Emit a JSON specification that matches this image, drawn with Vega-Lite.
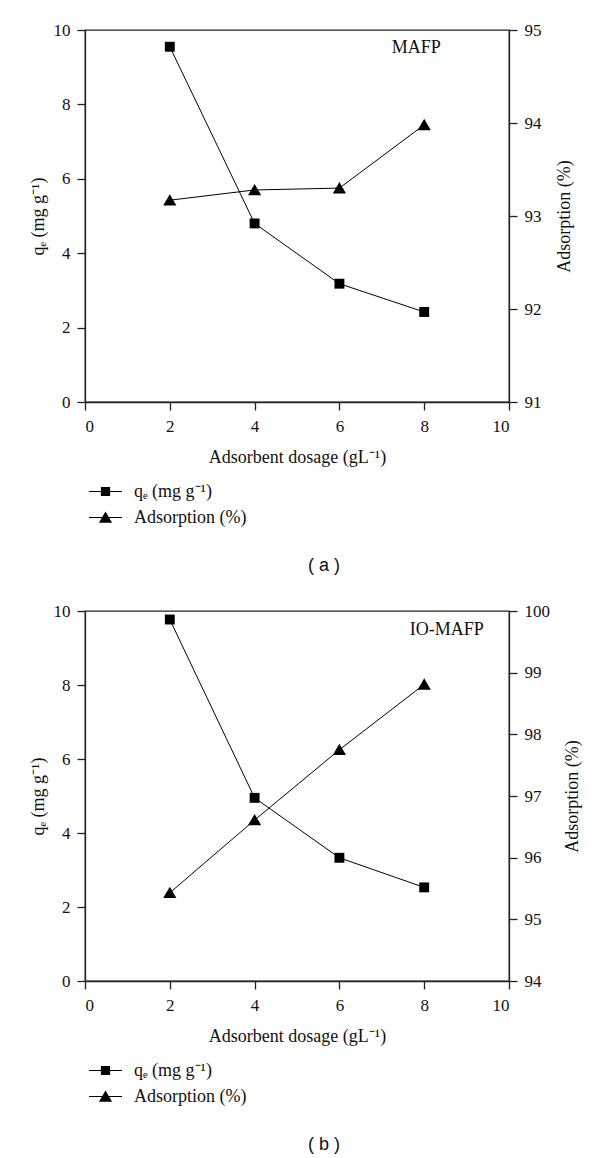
{
  "$schema": "https://vega.github.io/schema/vega-lite/v6.json",
  "background": "white",
  "padding": {"left": 28, "top": 20, "right": 0, "bottom": 0},
  "config": {
    "font": "Liberation Serif",
    "view": {"stroke": "#222", "strokeWidth": 1.3},
    "axis": {
      "grid": false,
      "domainColor": "#222", "domainWidth": 1.3,
      "tickColor": "#222", "tickWidth": 1.3, "tickSize": 8,
      "labelFont": "Liberation Serif", "labelFontSize": 17, "labelColor": "#111", "labelPadding": 7,
      "titleFont": "Liberation Serif", "titleFontSize": 18, "titleFontWeight": "normal", "titleColor": "#111"
    },
    "legend": {"labelFont": "Liberation Serif", "labelFontSize": 18, "labelColor": "#111"},
    "title": {"font": "Liberation Sans", "fontSize": 18, "fontWeight": "normal", "color": "#111"}
  },
  "data": {
    "values": [
      {"panel": "a", "series": "qₑ (mg g⁻¹)", "x": 2, "value": 9.55},
      {"panel": "a", "series": "qₑ (mg g⁻¹)", "x": 4, "value": 4.80},
      {"panel": "a", "series": "qₑ (mg g⁻¹)", "x": 6, "value": 3.18},
      {"panel": "a", "series": "qₑ (mg g⁻¹)", "x": 8, "value": 2.42},
      {"panel": "a", "series": "Adsorption (%)", "x": 2, "value": 93.17},
      {"panel": "a", "series": "Adsorption (%)", "x": 4, "value": 93.28},
      {"panel": "a", "series": "Adsorption (%)", "x": 6, "value": 93.30},
      {"panel": "a", "series": "Adsorption (%)", "x": 8, "value": 93.98},
      {"panel": "a", "series": "label", "x": 7.81, "value": 9.52, "text": "MAFP"},
      {"panel": "b", "series": "qₑ (mg g⁻¹)", "x": 2, "value": 9.77},
      {"panel": "b", "series": "qₑ (mg g⁻¹)", "x": 4, "value": 4.95},
      {"panel": "b", "series": "qₑ (mg g⁻¹)", "x": 6, "value": 3.33},
      {"panel": "b", "series": "qₑ (mg g⁻¹)", "x": 8, "value": 2.53},
      {"panel": "b", "series": "Adsorption (%)", "x": 2, "value": 95.43},
      {"panel": "b", "series": "Adsorption (%)", "x": 4, "value": 96.61},
      {"panel": "b", "series": "Adsorption (%)", "x": 6, "value": 97.75},
      {"panel": "b", "series": "Adsorption (%)", "x": 8, "value": 98.81},
      {"panel": "b", "series": "label", "x": 8.53, "value": 9.50, "text": "IO-MAFP"}
    ]
  },
  "spacing": 25,
  "resolve": {"scale": {"shape": "independent"}, "legend": {"shape": "independent"}},
  "vconcat": [
    {
      "width": 424, "height": 372,
      "title": {"text": "( a )", "orient": "bottom", "dx": 27, "offset": 21, "font": "Liberation Sans", "fontSize": 18, "fontWeight": "normal"},
      "transform": [{"filter": "datum.panel === 'a'"}],
      "encoding": {
        "x": {"field": "x", "type": "quantitative", "scale": {"domain": [0, 10]},
              "axis": {"values": [0, 2, 4, 6, 8, 10], "title": "Adsorbent dosage (gL⁻¹)", "labelPadding": 8, "titlePadding": 14,
                       "labelFont": "Liberation Serif", "titleFont": "Liberation Serif", "labelFontSize": 17, "titleFontSize": 18}}
      },
      "layer": [
        {
          "encoding": {
            "y": {"field": "value", "type": "quantitative", "scale": {"domain": [0, 10]},
                  "axis": {"values": [0, 2, 4, 6, 8, 10], "title": "qₑ (mg g⁻¹)", "titlePadding": 6,
                           "labelFont": "Liberation Serif", "titleFont": "Liberation Serif", "labelFontSize": 17, "titleFontSize": 18}}
          },
          "layer": [
            {"transform": [{"filter": "datum.series === 'qₑ (mg g⁻¹)'"}],
             "mark": {"type": "line", "color": "black", "strokeWidth": 1}},
            {"transform": [{"filter": "datum.series === 'qₑ (mg g⁻¹)'"}],
             "mark": {"type": "point", "filled": true, "opacity": 1, "color": "black", "size": 484, "shape": "M-0.45,-0.45H0.45V0.45H-0.45Z"}},
            {"transform": [{"filter": "false"}],
             "mark": {"type": "point", "filled": true, "opacity": 1, "color": "black", "size": 484},
             "encoding": {
               "shape": {"field": "series", "type": "nominal",
                         "scale": {"domain": ["qₑ (mg g⁻¹)", "Adsorption (%)"],
                                   "range": ["M-1.5,-0.05H1.5V0.05H-1.5ZM-0.42,-0.42H0.42V0.42H-0.42Z", "M-1.5,-0.05H1.5V0.05H-1.5ZM0,-0.55L0.6,0.48H-0.6Z"]},
                         "legend": {"orient": "bottom", "direction": "vertical", "title": null, "offset": 4.5, "padding": 9.5,
                                    "symbolSize": 484, "labelFont": "Liberation Serif", "labelFontSize": 18, "labelColor": "#111",
                                    "labelOffset": 17.5, "rowPadding": 6,
                                    "symbolFillColor": "black", "symbolOpacity": 1, "symbolStrokeWidth": 0}}
             }},
            {"transform": [{"filter": "datum.series === 'label'"}],
             "mark": {"type": "text", "font": "Liberation Serif", "fontSize": 18, "color": "#111"},
             "encoding": {"text": {"field": "text"}}}
          ]
        },
        {
          "transform": [{"filter": "datum.series === 'Adsorption (%)'"}],
          "encoding": {
            "y": {"field": "value", "type": "quantitative", "scale": {"domain": [91, 95]},
                  "axis": {"orient": "right", "values": [91, 92, 93, 94, 95], "title": "Adsorption (%)", "titleAngle": 270, "titleBaseline": "top", "titlePadding": 14,
                           "labelFont": "Liberation Serif", "titleFont": "Liberation Serif", "labelFontSize": 17, "titleFontSize": 18}}
          },
          "layer": [
            {"mark": {"type": "line", "color": "black", "strokeWidth": 1}},
            {"mark": {"type": "point", "filled": true, "opacity": 1, "color": "black", "size": 484, "shape": "M0,-0.55L0.6,0.48H-0.6Z"}}
          ]
        }
      ],
      "resolve": {"scale": {"y": "independent"}}
    },
    {
      "width": 424, "height": 370,
      "title": {"text": "( b )", "orient": "bottom", "dx": 27, "offset": 21, "font": "Liberation Sans", "fontSize": 18, "fontWeight": "normal"},
      "transform": [{"filter": "datum.panel === 'b'"}],
      "encoding": {
        "x": {"field": "x", "type": "quantitative", "scale": {"domain": [0, 10]},
              "axis": {"values": [0, 2, 4, 6, 8, 10], "title": "Adsorbent dosage (gL⁻¹)", "labelPadding": 8, "titlePadding": 14,
                       "labelFont": "Liberation Serif", "titleFont": "Liberation Serif", "labelFontSize": 17, "titleFontSize": 18}}
      },
      "layer": [
        {
          "encoding": {
            "y": {"field": "value", "type": "quantitative", "scale": {"domain": [0, 10]},
                  "axis": {"values": [0, 2, 4, 6, 8, 10], "title": "qₑ (mg g⁻¹)", "titlePadding": 6,
                           "labelFont": "Liberation Serif", "titleFont": "Liberation Serif", "labelFontSize": 17, "titleFontSize": 18}}
          },
          "layer": [
            {"transform": [{"filter": "datum.series === 'qₑ (mg g⁻¹)'"}],
             "mark": {"type": "line", "color": "black", "strokeWidth": 1}},
            {"transform": [{"filter": "datum.series === 'qₑ (mg g⁻¹)'"}],
             "mark": {"type": "point", "filled": true, "opacity": 1, "color": "black", "size": 484, "shape": "M-0.45,-0.45H0.45V0.45H-0.45Z"}},
            {"transform": [{"filter": "false"}],
             "mark": {"type": "point", "filled": true, "opacity": 1, "color": "black", "size": 484},
             "encoding": {
               "shape": {"field": "series", "type": "nominal",
                         "scale": {"domain": ["qₑ (mg g⁻¹)", "Adsorption (%)"],
                                   "range": ["M-1.5,-0.05H1.5V0.05H-1.5ZM-0.42,-0.42H0.42V0.42H-0.42Z", "M-1.5,-0.05H1.5V0.05H-1.5ZM0,-0.55L0.6,0.48H-0.6Z"]},
                         "legend": {"orient": "bottom", "direction": "vertical", "title": null, "offset": 4.5, "padding": 9.5,
                                    "symbolSize": 484, "labelFont": "Liberation Serif", "labelFontSize": 18, "labelColor": "#111",
                                    "labelOffset": 17.5, "rowPadding": 6,
                                    "symbolFillColor": "black", "symbolOpacity": 1, "symbolStrokeWidth": 0}}
             }},
            {"transform": [{"filter": "datum.series === 'label'"}],
             "mark": {"type": "text", "font": "Liberation Serif", "fontSize": 18, "color": "#111"},
             "encoding": {"text": {"field": "text"}}}
          ]
        },
        {
          "transform": [{"filter": "datum.series === 'Adsorption (%)'"}],
          "encoding": {
            "y": {"field": "value", "type": "quantitative", "scale": {"domain": [94, 100]},
                  "axis": {"orient": "right", "values": [94, 95, 96, 97, 98, 99, 100], "title": "Adsorption (%)", "titleAngle": 270, "titleBaseline": "top", "titlePadding": 14,
                           "labelFont": "Liberation Serif", "titleFont": "Liberation Serif", "labelFontSize": 17, "titleFontSize": 18}}
          },
          "layer": [
            {"mark": {"type": "line", "color": "black", "strokeWidth": 1}},
            {"mark": {"type": "point", "filled": true, "opacity": 1, "color": "black", "size": 484, "shape": "M0,-0.55L0.6,0.48H-0.6Z"}}
          ]
        }
      ],
      "resolve": {"scale": {"y": "independent"}}
    }
  ]
}
